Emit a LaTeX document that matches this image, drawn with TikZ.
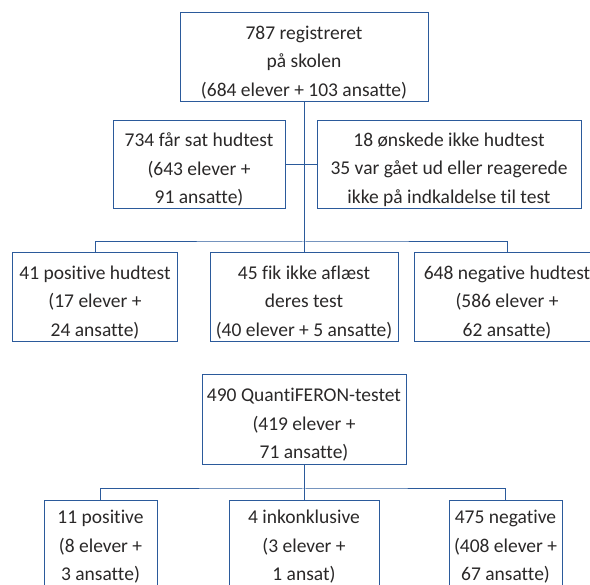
\documentclass[tikz,border=0pt]{standalone}
\usepackage{fontspec}
\setmainfont[Ligatures={NoCommon}]{Carlito}
\definecolor{boxblue}{HTML}{2B5A9B}
\definecolor{txt}{HTML}{2A2828}
\newcommand\topstrut{\rule{0pt}{23pt}}
\newcommand\lowstrut{\rule{0pt}{15pt}}
\begin{document}
\begin{tikzpicture}[x=1pt,y=-1pt,
  fbox/.style={draw=boxblue, line width=1pt, align=center, inner sep=0pt,
    text=txt, font=\fontsize{19.5}{28.5}\selectfont},
  link/.style={draw=boxblue, line width=1pt}]
\useasboundingbox (0,0) rectangle (590,585);
\node[fbox, minimum width=248pt, minimum height=89pt] (top) at (304,57.5)
  {\topstrut 787 registreret\\på skolen\\(684 elever + 103 ansatte)};
\node[fbox, minimum width=172pt, minimum height=88pt] (a) at (199,165)
  {\topstrut 734 får sat hudtest\\(643 elever +\\91 ansatte)};
\node[fbox, minimum width=264pt, minimum height=88pt] (b) at (449,165)
  {\topstrut 18 ønskede ikke hudtest\\35 var gået ud eller reagerede\\ikke på indkaldelse til test};
\node[fbox, minimum width=165pt, minimum height=89pt] (c) at (95,297.5)
  {\topstrut 41 positive hudtest\\(17 elever +\\24 ansatte)};
\node[fbox, minimum width=188pt, minimum height=89pt] (d) at (304,297.5)
  {\topstrut 45 fik ikke aflæst\\deres test\\(40 elever + 5 ansatte)};
\node[fbox, minimum width=186pt, minimum height=89pt] (e) at (507,297.5)
  {\topstrut 648 negative hudtest\\(586 elever +\\62 ansatte)};
\node[fbox, minimum width=204pt, minimum height=90pt] (q) at (304,420)
  {\topstrut 490 QuantiFERON-testet\\(419 elever +\\71 ansatte)};
\node[fbox, minimum width=113pt, minimum height=90pt] (f) at (100.5,546)
  {\lowstrut 11 positive\\(8 elever +\\3 ansatte)};
\node[fbox, minimum width=150pt, minimum height=90pt] (g) at (304,546)
  {\lowstrut 4 inkonklusive\\(3 elever +\\1 ansat)};
\node[fbox, minimum width=113pt, minimum height=90pt] (h) at (505.5,546)
  {\lowstrut 475 negative\\(408 elever +\\67 ansatte)};
\coordinate (j1) at (304,242);
\coordinate (j2) at (304,489);
\draw[link] (top.south) -- (d.north);
\draw[link] (a.east) -- (b.west);
\draw[link] (c.north) |- (j1) -| (e.north);
\draw[link] (q.south) -- (g.north);
\draw[link] (f.north) |- (j2) -| (h.north);
\end{tikzpicture}
\end{document}
